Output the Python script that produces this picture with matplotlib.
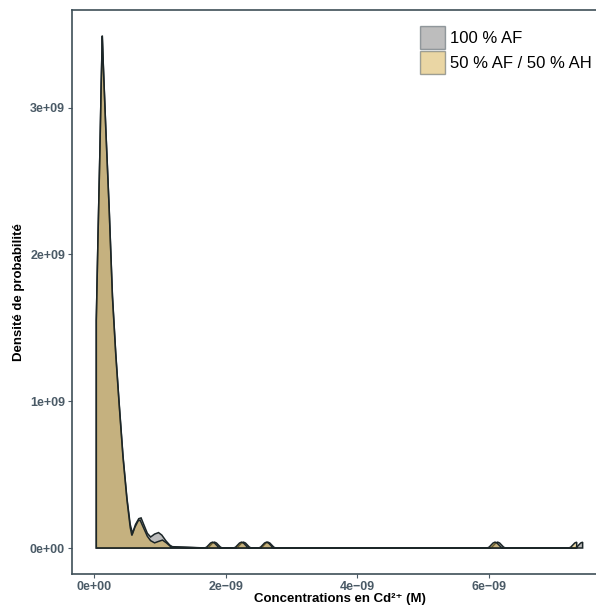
import numpy as np
import matplotlib.pyplot as plt
from matplotlib.patches import Patch

plt.rcParams['font.family'] = ['Liberation Sans', 'DejaVu Sans']

# Density curves (x in 1e-9 M, density in 1e9)
# main body near zero, shared shape with small differences in the tail
af_x = [0.035, 0.06, 0.09, 0.11, 0.126, 0.14, 0.18, 0.23, 0.28, 0.33, 0.38,
        0.44, 0.50, 0.55, 0.585, 0.63, 0.68, 0.715, 0.76, 0.81, 0.86, 0.92,
        0.98, 1.03, 1.09, 1.15, 1.19]
af_y = [1.55, 2.10, 2.71, 3.17, 3.49, 3.31, 2.85, 2.32, 1.72, 1.33, 1.00,
        0.63, 0.34, 0.16, 0.10, 0.16, 0.20, 0.205, 0.155, 0.10, 0.075, 0.095,
        0.105, 0.088, 0.05, 0.02, 0.009]

mix_x = [0.035, 0.06, 0.09, 0.11, 0.126, 0.14, 0.18, 0.23, 0.28, 0.33, 0.38,
         0.44, 0.50, 0.55, 0.575, 0.62, 0.67, 0.70, 0.76, 0.81, 0.86, 0.92,
         0.98, 1.04, 1.10, 1.17]
mix_y = [1.55, 2.10, 2.71, 3.17, 3.48, 3.30, 2.84, 2.31, 1.71, 1.32, 0.99,
         0.62, 0.33, 0.14, 0.085, 0.14, 0.185, 0.19, 0.13, 0.08, 0.05, 0.035,
         0.045, 0.054, 0.035, 0.007]

# isolated high concentrations (small bumps), last one is the data maximum
af_bumps = [1.83, 2.27, 2.64, 6.13]
af_max = 7.42
mix_bumps = [1.80, 2.24, 2.62, 6.09]
mix_max = 7.33

bump_dx = [-0.12, -0.09, -0.06, -0.03, 0.0, 0.03, 0.06, 0.09, 0.12]
bump_h = [0.0, 0.006, 0.02, 0.034, 0.04, 0.034, 0.02, 0.006, 0.0]

labels = ["100 % AF", "50 % AF / 50 % AH"]
colors = ["#686868", "#d0a22e"]
alpha = 0.43
edge = "#1c2628"


def build_curve(xs, ys, bumps, xmax):
    x = [xs[0]] + list(xs)
    y = [0.0] + list(ys)
    for c in bumps:
        x += [c + d for d in bump_dx]
        y += list(bump_h)
    half = bump_dx.index(0.0) + 1
    x += [xmax + d for d in bump_dx[:half]]
    y += list(bump_h[:half])
    x.append(xmax)
    y.append(0.0)
    return np.array(x) * 1e-9, np.array(y) * 1e9


curves = [build_curve(af_x, af_y, af_bumps, af_max),
          build_curve(mix_x, mix_y, mix_bumps, mix_max)]

W, H = 596, 607
fig = plt.figure(figsize=(W / 100, H / 100), dpi=100)
ax = fig.add_axes([72 / W, 33.3 / H, (607 - 72) / W, (573.7 - 10) / H])

for (x, y), col in zip(curves, colors):
    ax.fill(x, y, facecolor=col, alpha=alpha, edgecolor="none")
    ax.fill(x, y, facecolor="none", edgecolor=edge, linewidth=1.1)

ax.set_xlim(-0.334e-9, 7.79e-9)
ax.set_ylim(-0.175e9, 3.665e9)

ax.set_xticks([0, 2e-9, 4e-9, 6e-9])
ax.set_xticklabels(["0e+00", "2e\u221209", "4e\u221209", "6e\u221209"])
ax.set_yticks([0, 1e9, 2e9, 3e9])
ax.set_yticklabels(["0e+00", "1e+09", "2e+09", "3e+09"])

tick_col = "#4a5a66"
ax.tick_params(direction="out", length=3, width=0.8, color=tick_col,
               labelsize=9, labelcolor=tick_col, pad=2)
for lab in ax.get_xticklabels() + ax.get_yticklabels():
    lab.set_fontweight("bold")

for s in ax.spines.values():
    s.set_color("#3e4f58")
    s.set_linewidth(1.2)

ax.set_xlabel("Concentrations en Cd\u00b2\u207a (M)", fontsize=9.5,
              fontweight="bold", color="black")
ax.xaxis.set_label_coords(0.5, -0.034)
ax.set_ylabel("Densité de probabilité", fontsize=9.5, fontweight="bold",
              color="black")
ax.yaxis.set_label_coords(-0.088, 0.5)

handles = [Patch(facecolor=c, alpha=alpha, edgecolor="#2a3a44", linewidth=1.0)
           for c in colors]
fig.legend(handles, labels, loc="upper left",
           bbox_to_anchor=(408 / W, 1 - 14 / H), frameon=False,
           fontsize=12, handlelength=1.5, handleheight=1.75,
           labelspacing=0.12, handletextpad=0.35, borderpad=0.2)

fig.savefig("out.png", dpi=100)
